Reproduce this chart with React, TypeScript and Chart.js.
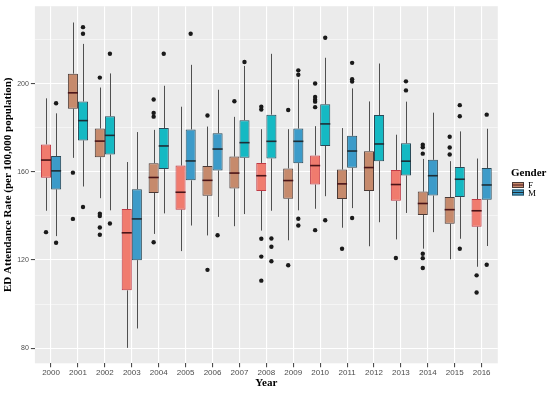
import React, { useEffect, useRef } from "react";
import { Chart, registerables } from "chart.js";
Chart.register(...registerables);

const years = ["2000","2001","2002","2003","2004","2005","2006","2007","2008","2009","2010","2011","2012","2013","2014","2015","2016"];

// Female five-number summaries
const fMin = [142.3,166.3,148.0,80.1,131.8,124.0,131.1,135.3,133.3,128.9,143.2,134.6,126.2,129.3,125.1,120.3,116.9];
const fQ1  = [157.3,188.6,166.6,106.2,150.4,142.8,149.1,152.4,151.3,147.8,154.2,147.6,151.3,146.8,140.4,136.4,135.1];
const fMed = [165.3,195.8,173.9,132.3,157.4,150.7,156.1,159.4,158.2,156.0,162.8,154.5,161.9,154.2,145.6,142.8,142.3];
const fQ3  = [172.4,204.5,179.6,143.1,163.9,162.8,162.6,166.9,164.0,161.5,167.4,161.0,169.3,160.8,151.0,148.5,147.6];
const fMax = [193.3,227.7,198.2,164.4,179.0,189.5,180.5,184.9,179.3,179.3,180.7,179.8,191.9,176.8,165.8,164.8,166.0];
const fOut = [[132.6],[159.6,138.6],[202.7,141.0,139.9,134.7,131.4],[],[192.8,186.7,185.0,128.0],[],[185.5,115.5],[192.0],[189.5,188.2,129.6,121.5,110.6],[188.0,117.6],[200.0,193.9,192.7,191.8,189.3,133.5],[125.1],[],[120.9],[172.3,171.1,168.2,122.8,120.8,116.3],[175.9,171.0,167.8],[113.0,105.2]];

// Male five-number summaries
const mMin = [130.8,153.3,142.5,88.9,141.1,135.6,139.5,140.8,142.3,142.5,148.9,143.5,137.1,141.3,132.6,129.6,126.3];
const mQ1  = [152.0,174.2,167.8,119.9,161.2,156.1,160.6,166.3,166.0,163.9,171.7,161.8,164.8,158.3,149.2,148.5,147.3];
const mMed = [160.4,183.2,176.5,138.6,171.7,164.9,170.3,173.2,173.8,173.8,181.7,169.4,172.6,164.8,158.2,156.6,154.0];
const mQ3  = [167.1,191.9,185.2,152.1,179.8,179.2,177.5,183.4,185.9,179.6,190.6,176.3,185.7,172.9,165.4,162.2,161.7];
const mMax = [186.5,218.0,204.6,178.0,199.0,208.5,197.2,208.0,213.5,201.9,211.7,197.8,209.1,191.8,186.8,178.3,179.5];
const mOut = [[191.1,127.8],[225.6,222.6,144.0],[213.5,136.5],[],[213.5],[222.6],[131.2],[209.8],[129.7,126.0,119.4],[206.0,204.0,138.7,135.6],[220.8,138.0],[209.4,202.0,200.9,139.0],[],[201.0,196.9],[],[190.2,185.2,125.1],[185.9,117.8]];

const seriesNames = ["F", "M"];

// styles
const SAL = "#F07B6E", BRN = "#C68A6C", TEAL = "#15B9C3", BLUE = "#3C9BC9";
const fFill = [SAL,BRN,BRN,SAL,BRN,SAL,BRN,BRN,SAL,BRN,SAL,BRN,BRN,SAL,BRN,BRN,SAL];
const mFill = [BLUE,TEAL,TEAL,BLUE,TEAL,BLUE,BLUE,TEAL,TEAL,BLUE,TEAL,BLUE,TEAL,TEAL,BLUE,TEAL,BLUE];
const fBorder = fFill.map(c => (c === SAL ? "#C03A45" : "#4A3A36"));
const mBorder = mFill.map(() => "#2A4A58");
const DODGE = 0.1875;
const SERIF = "'Liberation Serif', 'Times New Roman', serif";
const SANS = "'Liberation Sans', Arial, sans-serif";

export default function App() {
  const ref = useRef<HTMLCanvasElement | null>(null);
  useEffect(() => {
    if (!ref.current) return;
    const stats = [
      { min: fMin, q1: fQ1, med: fMed, q3: fQ3, max: fMax, medColor: "#4A1418" },
      { min: mMin, q1: mQ1, med: mMed, q3: mQ3, max: mMax, medColor: "#1E2E36" },
    ];
    const boxPlugin = {
      id: "boxParts",
      beforeDraw(chart: any) {
        const { ctx, chartArea: a } = chart;
        ctx.save();
        ctx.fillStyle = "#EBEBEB";
        ctx.fillRect(a.left, a.top, a.right - a.left, a.bottom - a.top);
        ctx.restore();
      },
      beforeDatasetsDraw(chart: any) {
        const { ctx } = chart;
        const ys = chart.scales.y;
        ctx.save();
        ctx.strokeStyle = "#4F4F4F";
        ctx.lineWidth = 1;
        stats.forEach((s, d) => {
          const meta = chart.getDatasetMeta(d);
          meta.data.forEach((el: any, i: number) => {
            const x = Math.round(el.x) + 0.5;
            ctx.beginPath();
            ctx.moveTo(x, ys.getPixelForValue(s.max[i]));
            ctx.lineTo(x, ys.getPixelForValue(s.q3[i]));
            ctx.moveTo(x, ys.getPixelForValue(s.q1[i]));
            ctx.lineTo(x, ys.getPixelForValue(s.min[i]));
            ctx.stroke();
          });
        });
        ctx.restore();
      },
      afterDatasetsDraw(chart: any) {
        const { ctx } = chart;
        const ys = chart.scales.y;
        ctx.save();
        ctx.lineWidth = 1.6;
        stats.forEach((s, d) => {
          const meta = chart.getDatasetMeta(d);
          ctx.strokeStyle = s.medColor;
          meta.data.forEach((el: any, i: number) => {
            const y = ys.getPixelForValue(s.med[i]);
            ctx.beginPath();
            ctx.moveTo(el.x - el.width / 2, y);
            ctx.lineTo(el.x + el.width / 2, y);
            ctx.stroke();
          });
        });
        ctx.restore();
      },
      afterDraw(chart: any) {
        const { ctx } = chart;
        ctx.save();
        ctx.fillStyle = "#000";
        ctx.textBaseline = "alphabetic";
        ctx.textAlign = "left";
        ctx.font = `bold 11px ${SERIF}`;
        ctx.fillText("Gender", 511, 176);
        const keys = [
          { fill: BRN, border: "#4A3A36", med: "#4A1418", y: 182 },
          { fill: BLUE, border: "#2A4A58", med: "#1E2E36", y: 189.5 },
        ];
        keys.forEach((k, i) => {
          ctx.fillStyle = k.fill;
          ctx.fillRect(512, k.y, 12, 6);
          ctx.strokeStyle = k.border;
          ctx.lineWidth = 1;
          ctx.strokeRect(512.5, k.y + 0.5, 11, 5);
          ctx.strokeStyle = k.med;
          ctx.beginPath();
          ctx.moveTo(512, k.y + 3);
          ctx.lineTo(524, k.y + 3);
          ctx.stroke();
          ctx.fillStyle = "#000";
          ctx.font = `9px ${SERIF}`;
          ctx.fillText(seriesNames[i], 528, k.y + 6);
        });
        ctx.restore();
      },
    };

    const outF = fOut.flatMap((arr, i) => arr.map(v => ({ x: i - DODGE, y: v })));
    const outM = mOut.flatMap((arr, i) => arr.map(v => ({ x: i + DODGE, y: v })));

    const chart = new Chart(ref.current, {
      type: "bar",
      data: {
        datasets: [
          {
            label: "F",
            data: years.map((_, i) => ({ x: i, y: [fQ1[i], fQ3[i]] })) as any,
            backgroundColor: fFill,
            borderColor: fBorder,
            borderWidth: 1,
            borderSkipped: false,
          },
          {
            label: "M",
            data: years.map((_, i) => ({ x: i, y: [mQ1[i], mQ3[i]] })) as any,
            backgroundColor: mFill,
            borderColor: mBorder,
            borderWidth: 1,
            borderSkipped: false,
          },
          {
            type: "scatter",
            label: "F out",
            data: outF as any,
            backgroundColor: "#1A1A1A",
            borderWidth: 0,
            pointRadius: 2.2,
          } as any,
          {
            type: "scatter",
            label: "M out",
            data: outM as any,
            backgroundColor: "#1A1A1A",
            borderWidth: 0,
            pointRadius: 2.2,
          } as any,
        ],
      },
      options: {
        responsive: false,
        animation: false,
        devicePixelRatio: 1,
        datasets: { bar: { categoryPercentage: 0.75, barPercentage: 1.0, grouped: true } } as any,
        layout: { padding: { left: 0, right: 52.2, top: 3, bottom: 0 } },
        plugins: { legend: { display: false }, tooltip: { enabled: false } },
        scales: {
          x: {
            type: "linear",
            min: -0.6,
            max: 16.6,
            offset: false,
            ticks: {
              stepSize: 1,
              includeBounds: false,
              autoSkip: false,
              maxRotation: 0,
              padding: 1,
              color: "#4D4D4D",
              font: { family: SANS, size: 8 },
              callback: (v: any) => (Number.isInteger(v) && years[v] ? years[v] : ""),
            },
            grid: { color: "#FFFFFF", lineWidth: 1.1, tickColor: "#4D4D4D", tickLength: 4, offset: false },
            border: { display: false },
            title: {
              display: true,
              text: "Year",
              color: "#000",
              font: { family: SERIF, size: 11, weight: "bold" },
              padding: { top: 0, bottom: 3.4 },
            },
            afterFit: (s: any) => { s.height = 29.7; },
          } as any,
          y: {
            type: "linear",
            min: 73.1,
            max: 235.1,
            ticks: {
              stepSize: 20,
              includeBounds: false,
              autoSkip: false,
              padding: 2,
              color: "#4D4D4D",
              font: { family: SANS, size: 7 },
              callback: (v: any) => (v % 40 === 0 ? String(v) : ""),
            },
            grid: {
              color: "#FFFFFF",
              lineWidth: (c: any) => (c.tick && c.tick.value % 40 === 0 ? 1.1 : 0.5),
              tickColor: (c: any) => (c.tick && c.tick.value % 40 === 0 ? "#4D4D4D" : "rgba(0,0,0,0)"),
              tickLength: 4,
            },
            border: { display: false },
            title: {
              display: true,
              text: "ED Attendance Rate (per 100,000 population)",
              color: "#000",
              font: { family: SERIF, size: 11, weight: "bold" },
              padding: { top: 1.5, bottom: 0 },
            },
            afterFit: (s: any) => { s.width = 34.9; },
          } as any,
        },
      },
      plugins: [boxPlugin],
    });
    return () => chart.destroy();
  }, []);

  return (
    <div style={{ position: "absolute", left: 0, top: 0, width: 550, height: 393, background: "#fff" }}>
      <canvas ref={ref} width={550} height={393} style={{ display: "block" }} />
    </div>
  );
}
